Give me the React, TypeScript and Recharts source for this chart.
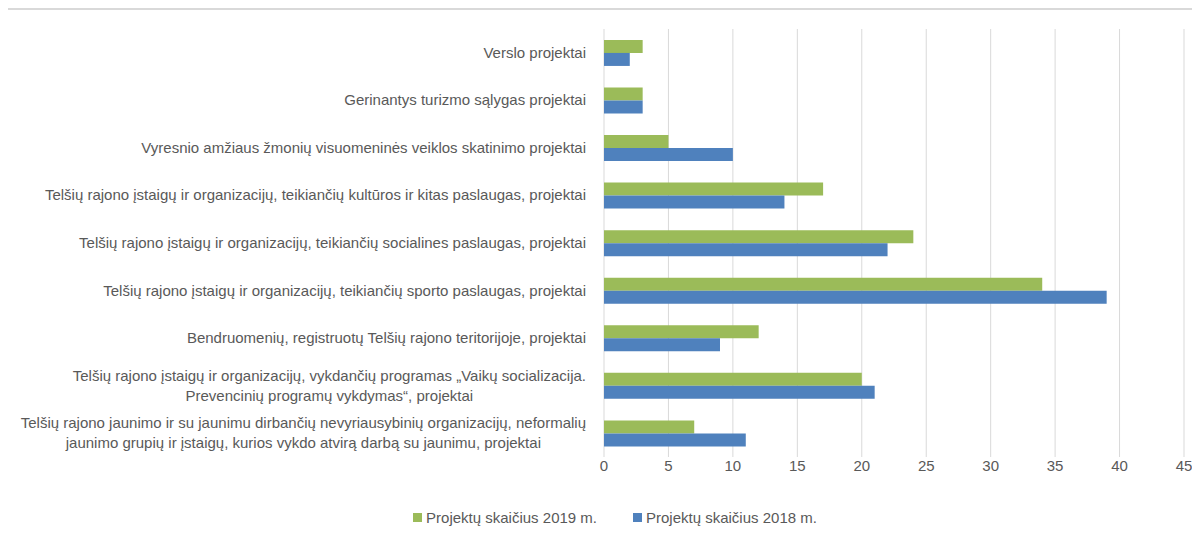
import React from 'react';
import { BarChart, Bar, XAxis, YAxis, CartesianGrid, Legend } from 'recharts';

const categories: string[][] = [
  ['Verslo projektai'],
  ['Gerinantys turizmo sąlygas projektai'],
  ['Vyresnio amžiaus žmonių visuomeninės veiklos skatinimo projektai'],
  ['Telšių rajono įstaigų ir organizacijų, teikiančių kultūros ir kitas paslaugas, projektai'],
  ['Telšių rajono įstaigų ir organizacijų, teikiančių socialines paslaugas, projektai'],
  ['Telšių rajono įstaigų ir organizacijų, teikiančių sporto paslaugas, projektai'],
  ['Bendruomenių, registruotų Telšių rajono teritorijoje, projektai'],
  ['Telšių rajono įstaigų ir organizacijų, vykdančių programas „Vaikų socializacija.', 'Prevencinių programų vykdymas“, projektai'],
  ['Telšių rajono jaunimo ir su jaunimu dirbančių nevyriausybinių organizacijų, neformalių', 'jaunimo grupių ir įstaigų, kurios vykdo atvirą darbą su jaunimu, projektai'],
];

const projects2019 = [3, 3, 5, 17, 24, 34, 12, 20, 7];
const projects2018 = [2, 3, 10, 14, 22, 39, 9, 21, 11];
const xTicks = [0, 5, 10, 15, 20, 25, 30, 35, 40, 45];

const series = [
  { key: 'y2019', name: 'Projektų skaičius 2019 m.', color: '#9BBB59' },
  { key: 'y2018', name: 'Projektų skaičius 2018 m.', color: '#4F81BD' },
];

const data = categories.map((lines, i) => ({
  name: lines.join('\n'),
  y2019: projects2019[i],
  y2018: projects2018[i],
}));

const FONT = '"Liberation Sans", Arial, sans-serif';
const FONT_SIZE = 15;
const TEXT = '#595959';

let ctx: CanvasRenderingContext2D | null = null;
const measure = (s: string) => {
  if (!ctx) {
    ctx = document.createElement('canvas').getContext('2d');
  }
  if (!ctx) return s.length * 7.5;
  ctx.font = `${FONT_SIZE}px ${FONT}`;
  return ctx.measureText(s).width;
};

// wrapped labels are centred on their widest line, like Excel does
const CategoryTick = (props: any) => {
  const { x, y, payload } = props;
  const lines: string[] = String(payload.value).split('\n');
  if (lines.length === 1) {
    return (
      <text x={x} y={y} dy={5} textAnchor="end" fill={TEXT} fontSize={FONT_SIZE} fontFamily={FONT}>
        {lines[0]}
      </text>
    );
  }
  const maxW = Math.max(...lines.map(measure));
  const cx = x - maxW / 2;
  const lh = 20;
  const top = y - ((lines.length - 1) * lh) / 2 + 5;
  return (
    <text textAnchor="middle" fill={TEXT} fontSize={FONT_SIZE} fontFamily={FONT}>
      {lines.map((l, i) => (
        <tspan key={i} x={cx} y={top + i * lh}>
          {l}
        </tspan>
      ))}
    </text>
  );
};

const LegendContent = () => (
  <div
    style={{
      display: 'flex',
      justifyContent: 'center',
      gap: 36,
      paddingLeft: 38,
      height: 20,
      alignItems: 'center',
      fontFamily: FONT,
      fontSize: FONT_SIZE,
      color: TEXT,
    }}
  >
    {series.map((s) => (
      <div key={s.key} style={{ display: 'flex', alignItems: 'center' }}>
        <span style={{ width: 9, height: 9, background: s.color, display: 'inline-block', marginRight: 4 }} />
        <span>{s.name}</span>
      </div>
    ))}
  </div>
);

export default function App() {
  return (
    <div
      style={{
        width: 1194,
        height: 540,
        borderTop: '2px solid #d9d9d9',
        borderLeft: '2px solid #d9d9d9',
        marginLeft: -2,
        background: '#fff',
        boxSizing: 'border-box',
      }}
    >
      <BarChart
        width={1185}
        height={524}
        data={data}
        layout="vertical"
        margin={{ top: 19, right: 9, left: 0, bottom: 7 }}
        barCategoryGap="23%"
        barGap={0}
      >
        <CartesianGrid horizontal={false} stroke="#d9d9d9" strokeWidth={1} />
        <XAxis
          type="number"
          domain={[0, 45]}
          ticks={xTicks}
          axisLine={false}
          tickLine={false}
          tickSize={0}
          interval={0}
          tick={{ fill: TEXT, fontSize: FONT_SIZE, fontFamily: FONT }}
          tickMargin={3}
          height={50}
        />
        <YAxis
          type="category"
          dataKey="name"
          width={596}
          axisLine={false}
          tickLine={false}
          interval={0}
          tick={<CategoryTick />}
          tickMargin={12}
        />
        <Legend verticalAlign="bottom" height={20} content={<LegendContent />} />
        {series.map((s) => (
          <Bar key={s.key} dataKey={s.key} name={s.name} fill={s.color} isAnimationActive={false} />
        ))}
      </BarChart>
    </div>
  );
}
